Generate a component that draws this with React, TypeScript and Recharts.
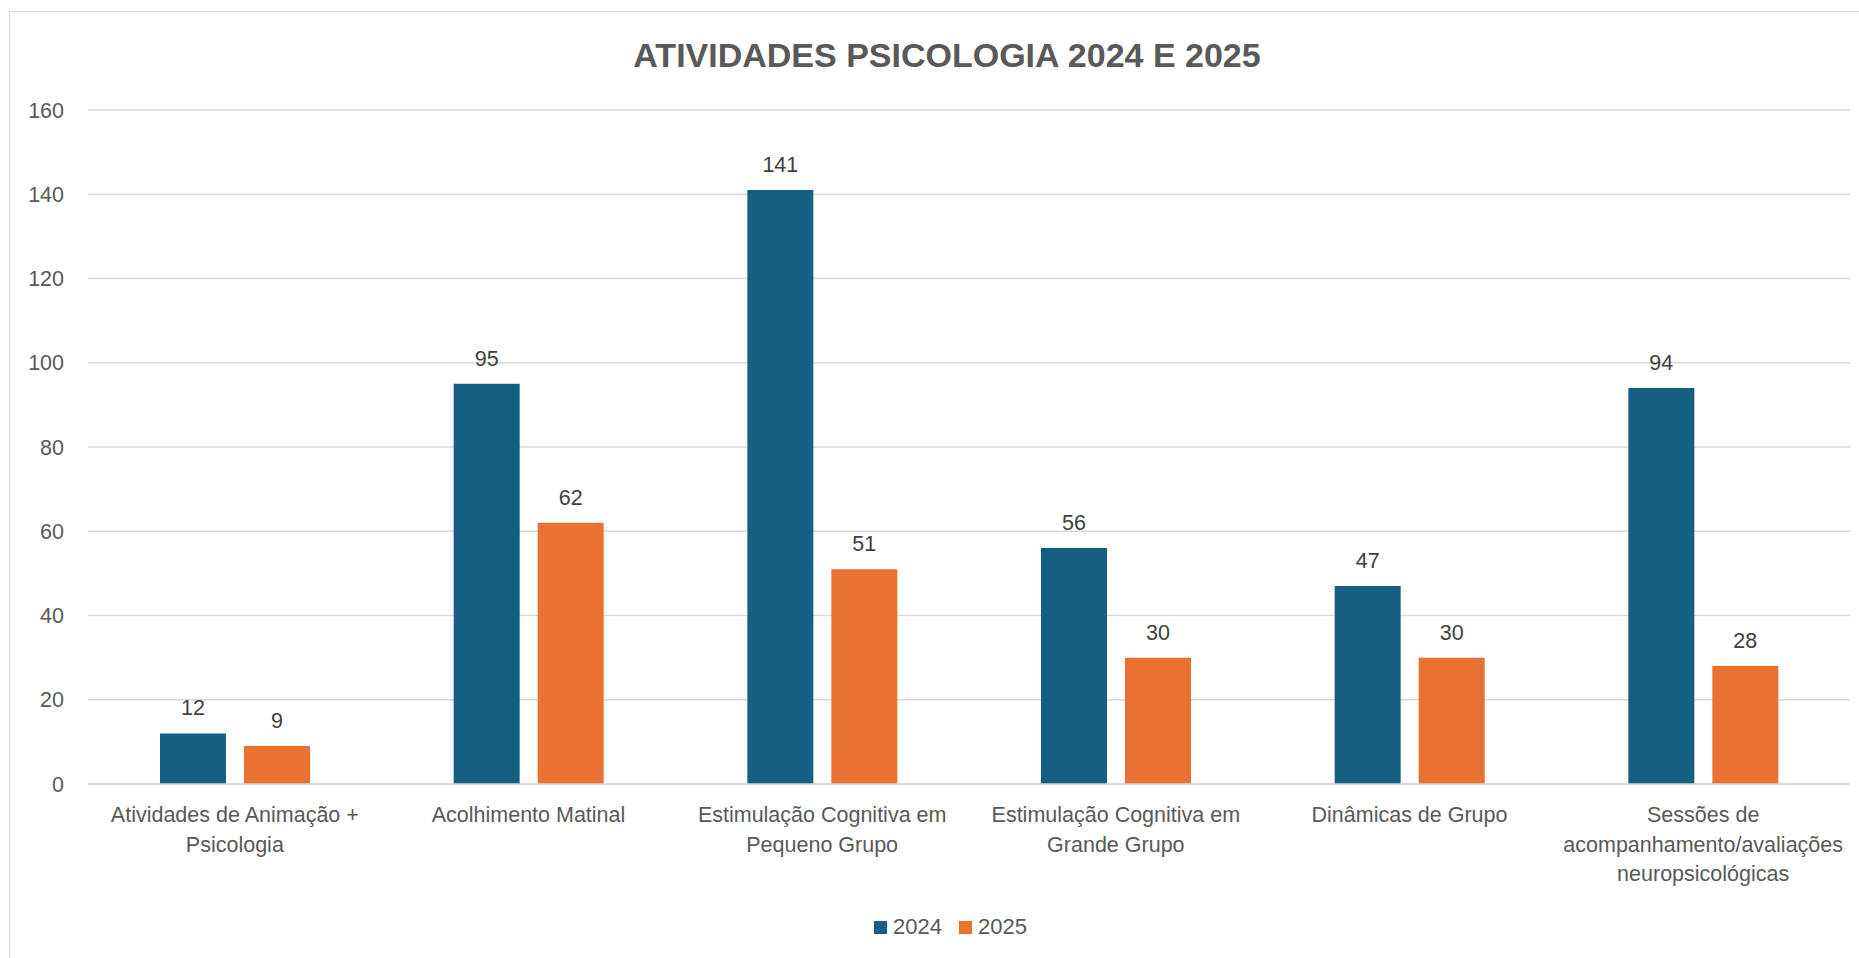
import { BarChart, Bar, XAxis, YAxis, CartesianGrid, LabelList, Legend } from 'recharts';

const categories = [
  'Atividades de Animação + Psicologia',
  'Acolhimento Matinal',
  'Estimulação Cognitiva em Pequeno Grupo',
  'Estimulação Cognitiva em Grande Grupo',
  'Dinâmicas de Grupo',
  'Sessões de acompanhamento/avaliações neuropsicológicas',
];
const values2024 = [12, 95, 141, 56, 47, 94];
const values2025 = [9, 62, 51, 30, 30, 28];
const yTicks = [0, 20, 40, 60, 80, 100, 120, 140, 160];
const seriesNames = ['2024', '2025'];

const BLUE = '#156082';
const ORANGE = '#E97132';
const TEXT = '#595959';
const FONT = '"Liberation Sans", Arial, sans-serif';

const data = categories.map((name, i) => ({
  name,
  y2024: values2024[i],
  y2025: values2025[i],
}));

let measureCtx: CanvasRenderingContext2D | null = null;
function textWidth(s: string, font: string) {
  if (!measureCtx) measureCtx = document.createElement('canvas').getContext('2d');
  if (!measureCtx) return s.length * 11;
  measureCtx.font = font;
  return measureCtx.measureText(s).width;
}

// greedy word wrap, like the spreadsheet does for long category names
function wrap(label: string, maxWidth: number) {
  const font = `21.5px ${FONT}`;
  const words = label.split(' ');
  const lines: string[] = [];
  let cur = '';
  for (const w of words) {
    const next = cur ? `${cur} ${w}` : w;
    if (cur && textWidth(next, font) > maxWidth) {
      lines.push(cur);
      cur = w;
    } else {
      cur = next;
    }
  }
  if (cur) lines.push(cur);
  return lines;
}

function CategoryTick(props: { x?: number; y?: number; payload?: { value: string } }) {
  const { x = 0, y = 0, payload } = props;
  if (!payload) return null;
  const lines = wrap(payload.value, 285);
  return (
    <g transform={`translate(${x},${y})`}>
      <text textAnchor="middle" fill={TEXT} fontSize={21.5} fontFamily={FONT}>
        {lines.map((l, i) => (
          <tspan key={i} x={0} y={38 + i * 29.5}>{l}</tspan>
        ))}
      </text>
    </g>
  );
}

function LegendContent() {
  const colors = [BLUE, ORANGE];
  return (
    <div style={{ display: 'flex', alignItems: 'center', lineHeight: '24px', fontFamily: FONT, fontSize: 22, color: TEXT }}>
      {seriesNames.map((s, i) => (
        <div key={s} style={{ display: 'flex', alignItems: 'center', marginRight: i === 0 ? 17 : 0 }}>
          <span style={{ width: 13, height: 13, background: colors[i], marginRight: 6 }} />
          <span>{s}</span>
        </div>
      ))}
    </div>
  );
}

export default function App() {
  return (
    <div
      style={{
        position: 'fixed', left: 9, top: 11, width: 1860, height: 960,
        borderLeft: '1px solid #D9D9D9', borderTop: '1px solid #D9D9D9', background: '#fff',
      }}
    >
      <div
        style={{
          position: 'absolute', left: 437, top: 26, width: 1000, textAlign: 'center',
          fontFamily: FONT, fontWeight: 'bold', fontSize: 34, lineHeight: '34px', color: TEXT,
        }}
      >
        ATIVIDADES PSICOLOGIA 2024 E 2025
      </div>
      <BarChart
        width={1849}
        height={946}
        data={data}
        margin={{ top: 98, right: 9, left: 0, bottom: 74 }}
        barGap={18}
      >
        <CartesianGrid vertical={false} stroke="#D9D9D9" strokeWidth={1.3} />
        <XAxis
          dataKey="name"
          interval={0}
          height={100}
          tickSize={0}
          tickMargin={0}
          tickLine={false}
          axisLine={{ stroke: '#D9D9D9', strokeWidth: 1.5 }}
          tick={<CategoryTick />}
        />
        <YAxis
          width={78}
          domain={[0, 160]}
          ticks={yTicks}
          interval={0}
          tickSize={0}
          tickMargin={24}
          axisLine={false}
          tickLine={false}
          tick={{ fill: TEXT, fontSize: 21.5, fontFamily: FONT }}
        />
        <Legend
          verticalAlign="middle"
          align="center"
          wrapperStyle={{ top: 903, left: 864, width: 'auto' }}
          content={<LegendContent />}
        />
        <Bar dataKey="y2024" name={seriesNames[0]} fill={BLUE} barSize={66} isAnimationActive={false}>
          <LabelList dataKey="y2024" position="top" offset={18} fill="#404040" fontSize={21.5} fontFamily={FONT} />
        </Bar>
        <Bar dataKey="y2025" name={seriesNames[1]} fill={ORANGE} barSize={66} isAnimationActive={false}>
          <LabelList dataKey="y2025" position="top" offset={18} fill="#404040" fontSize={21.5} fontFamily={FONT} />
        </Bar>
      </BarChart>
    </div>
  );
}
